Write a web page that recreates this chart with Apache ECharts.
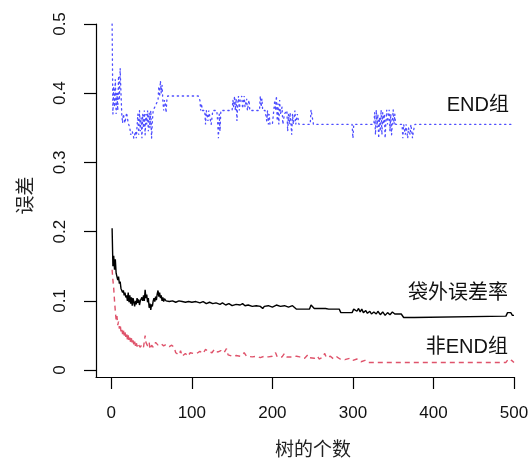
<!DOCTYPE html>
<html>
<head>
<meta charset="utf-8">
<script src="https://cdn.jsdelivr.net/npm/echarts@6/dist/echarts.min.js"></script>
<style>html,body{margin:0;padding:0;background:#fff}#c{width:530px;height:458px}</style>
</head>
<body>
<div id="c"></div>
<script>
// ---- data ----
var xTicks = [0, 100, 200, 300, 400, 500];
var yTicks = [0, 0.1, 0.2, 0.3, 0.4, 0.5];

// OOB error (袋外误差率), black solid
var oobTrees = [1,2,3,4,5,6,7,8,9,10,11,12,13,14,15,16,17,18,19,20,21,22,23,24,25,26,27,28,29,30,31,32,33,34,35,36,37,38,39,40,41,42,43,44,45,46,47,48,49,50,51,52,53,54,55,56,57,58,59,60,61,62,63,64,65,66,68,70,72,76,80,84,88,92,96,100,105,110,114,118,122,126,130,135,138,142,146,150,155,160,163,166,170,175,180,185,188,190,195,200,205,210,215,220,225,230,234,246,248,250,252,266,270,283,285,299,301,305,307,309,311,313,316,318,321,323,326,329,331,334,337,340,343,346,349,352,360,363,376,378,490,492,496,498,500];
var oobErr = [0.205,0.15,0.165,0.145,0.16,0.14,0.142,0.13,0.135,0.125,0.128,0.118,0.12,0.112,0.115,0.108,0.112,0.105,0.108,0.1,0.112,0.098,0.108,0.096,0.105,0.093,0.104,0.098,0.092,0.1,0.095,0.104,0.097,0.102,0.094,0.1,0.098,0.105,0.1,0.108,0.1,0.116,0.104,0.109,0.098,0.104,0.09,0.096,0.087,0.095,0.092,0.1,0.104,0.099,0.106,0.101,0.11,0.115,0.106,0.112,0.104,0.108,0.1,0.105,0.099,0.103,0.1,0.102,0.099,0.1,0.098,0.1,0.099,0.098,0.099,0.098,0.099,0.097,0.099,0.096,0.098,0.096,0.097,0.095,0.097,0.094,0.096,0.093,0.095,0.094,0.096,0.093,0.094,0.092,0.093,0.092,0.089,0.092,0.093,0.091,0.094,0.092,0.093,0.091,0.093,0.088,0.088,0.088,0.094,0.093,0.089,0.089,0.088,0.088,0.083,0.083,0.088,0.085,0.089,0.084,0.088,0.083,0.086,0.082,0.085,0.081,0.084,0.081,0.085,0.08,0.084,0.079,0.083,0.08,0.084,0.081,0.081,0.076,0.076,0.078,0.078,0.083,0.083,0.079,0.079];

// END组 error, blue dotted
var endTrees = [1,2,3,4,5,6,7,8,9,10,11,12,13,14,15,17,19,21,23,24,26,28,30,31,33,34,35,36,37,38,39,40,41,42,43,44,45,46,47,48,49,50,51,52,54,56,58,59,60,61,62,63,64,65,66,67,68,69,70,108,110,111,112,113,116,117,118,120,121,124,126,131,132,133,134,135,136,150,151,152,153,154,155,156,157,158,159,160,162,163,165,166,168,169,171,172,176,184,185,186,187,188,191,193,194,195,196,197,200,203,204,205,206,207,208,209,210,212,213,215,218,219,220,221,222,224,225,226,228,229,231,233,247,248,250,251,299,300,301,326,327,328,329,330,331,332,333,334,335,336,337,338,339,340,341,342,343,345,346,347,348,350,351,352,353,361,362,363,365,366,368,369,371,372,374,375,377,500];
var endErr = [0.5,0.37,0.41,0.38,0.42,0.37,0.4,0.375,0.425,0.39,0.436,0.4,0.37,0.357,0.37,0.357,0.372,0.357,0.35,0.34,0.345,0.335,0.345,0.335,0.37,0.34,0.375,0.345,0.365,0.335,0.37,0.35,0.375,0.34,0.37,0.355,0.375,0.345,0.372,0.35,0.375,0.335,0.36,0.375,0.375,0.385,0.39,0.41,0.395,0.418,0.4,0.412,0.39,0.375,0.39,0.385,0.372,0.39,0.396,0.396,0.39,0.375,0.385,0.375,0.375,0.355,0.375,0.36,0.375,0.355,0.375,0.375,0.36,0.335,0.37,0.345,0.375,0.375,0.39,0.38,0.396,0.375,0.392,0.36,0.385,0.396,0.375,0.39,0.396,0.378,0.396,0.38,0.392,0.375,0.39,0.375,0.375,0.375,0.396,0.38,0.392,0.375,0.375,0.36,0.375,0.355,0.37,0.355,0.355,0.39,0.375,0.396,0.36,0.385,0.355,0.39,0.37,0.38,0.355,0.37,0.375,0.345,0.37,0.355,0.372,0.34,0.37,0.355,0.375,0.355,0.37,0.355,0.355,0.376,0.376,0.355,0.355,0.335,0.355,0.355,0.372,0.34,0.376,0.35,0.37,0.335,0.365,0.345,0.376,0.34,0.372,0.355,0.37,0.335,0.36,0.376,0.355,0.376,0.345,0.37,0.34,0.376,0.355,0.37,0.355,0.355,0.335,0.355,0.34,0.355,0.335,0.35,0.34,0.355,0.335,0.345,0.355,0.355];

// 非END组 error, red dashed
var nonTrees = [1,2,3,4,5,6,7,8,9,10,11,12,13,14,15,16,17,18,19,20,21,22,23,24,25,26,27,28,29,30,31,32,33,34,36,38,40,42,43,45,47,48,50,52,55,58,60,62,65,68,72,75,78,80,84,86,88,92,95,98,102,106,110,114,117,120,125,128,132,136,140,143,145,150,155,160,165,168,175,180,185,190,195,200,204,206,212,215,218,225,230,234,240,244,246,252,256,258,262,265,267,272,276,280,284,290,296,300,305,310,315,318,490,493,497,500];
var nonErr = [0.145,0.13,0.118,0.1,0.085,0.072,0.078,0.065,0.07,0.06,0.066,0.056,0.06,0.052,0.058,0.05,0.055,0.048,0.053,0.044,0.05,0.042,0.047,0.04,0.046,0.038,0.043,0.036,0.041,0.035,0.04,0.034,0.039,0.036,0.033,0.037,0.033,0.05,0.04,0.035,0.04,0.03,0.036,0.033,0.04,0.036,0.035,0.038,0.035,0.037,0.034,0.036,0.033,0.025,0.022,0.028,0.02,0.024,0.02,0.025,0.024,0.024,0.027,0.024,0.03,0.027,0.025,0.03,0.026,0.028,0.025,0.031,0.022,0.02,0.021,0.02,0.025,0.02,0.019,0.02,0.018,0.02,0.019,0.02,0.025,0.019,0.019,0.024,0.019,0.019,0.02,0.019,0.017,0.022,0.018,0.017,0.02,0.016,0.018,0.024,0.018,0.02,0.016,0.019,0.016,0.015,0.017,0.014,0.016,0.012,0.014,0.011,0.011,0.016,0.014,0.011];

var seriesNames = ['袋外误差率', 'END组', '非END组'];

function pairs(xs, ys) { return xs.map(function (x, i) { return [x, ys[i]]; }); }

var FONT = "'Liberation Sans', 'Noto Sans CJK SC', sans-serif";
var chart = echarts.init(document.getElementById('c'), null, { renderer: 'canvas' });
chart.setOption({
  animation: false,
  backgroundColor: '#ffffff',
  grid: { left: 96, right: 16, top: 24, bottom: 81, outerBoundsMode: 'none' },
  xAxis: {
    type: 'value', min: -19, max: 500,
    name: '树的个数', nameLocation: 'middle', nameGap: 64,
    nameTextStyle: { fontSize: 19, color: '#222', fontFamily: FONT, padding: [0, 0, 0, 16] },
    axisLine: { show: true, onZero: false, lineStyle: { color: '#000', width: 1.2 } },
    axisTick: { show: true, inside: false, length: 12, customValues: xTicks, lineStyle: { color: '#000', width: 1.2 } },
    axisLabel: { customValues: xTicks, fontSize: 17, color: '#111', fontFamily: FONT, margin: 28 },
    splitLine: { show: false }
  },
  yAxis: {
    type: 'value', min: -0.01, max: 0.5,
    name: '误差', nameLocation: 'middle', nameGap: 60,
    nameTextStyle: { fontSize: 19, color: '#222', fontFamily: FONT, padding: [0, 0, 0, 10] },
    axisLine: { show: true, onZero: false, lineStyle: { color: '#000', width: 1.2 } },
    axisTick: { show: true, inside: false, length: 12, customValues: yTicks, lineStyle: { color: '#000', width: 1.2 } },
    axisLabel: { customValues: yTicks, rotate: 90, fontSize: 17, color: '#111', fontFamily: FONT, margin: 27 },
    splitLine: { show: false }
  },
  graphic: [
    { type: 'text', right: 21, top: 95, style: { text: seriesNames[1], fill: '#111', font: '20px ' + FONT } },
    { type: 'text', right: 22, top: 283, style: { text: seriesNames[0], fill: '#111', font: '20px ' + FONT } },
    { type: 'text', right: 22, top: 337, style: { text: seriesNames[2], fill: '#111', font: '20px ' + FONT } }
  ],
  series: [
    { name: seriesNames[1], type: 'line', data: pairs(endTrees, endErr), showSymbol: false,
      lineStyle: { color: '#4d4dff', width: 1.3, type: [1.3, 3.7], cap: 'round' }, z: 2 },
    { name: seriesNames[0], type: 'line', data: pairs(oobTrees, oobErr), showSymbol: false,
      lineStyle: { color: '#000', width: 1.4 }, z: 3 },
    { name: seriesNames[2], type: 'line', data: pairs(nonTrees, nonErr), showSymbol: false,
      lineStyle: { color: '#DF536B', width: 1.4, type: [5, 4] }, z: 4 }
  ]
});
</script>
</body>
</html>
